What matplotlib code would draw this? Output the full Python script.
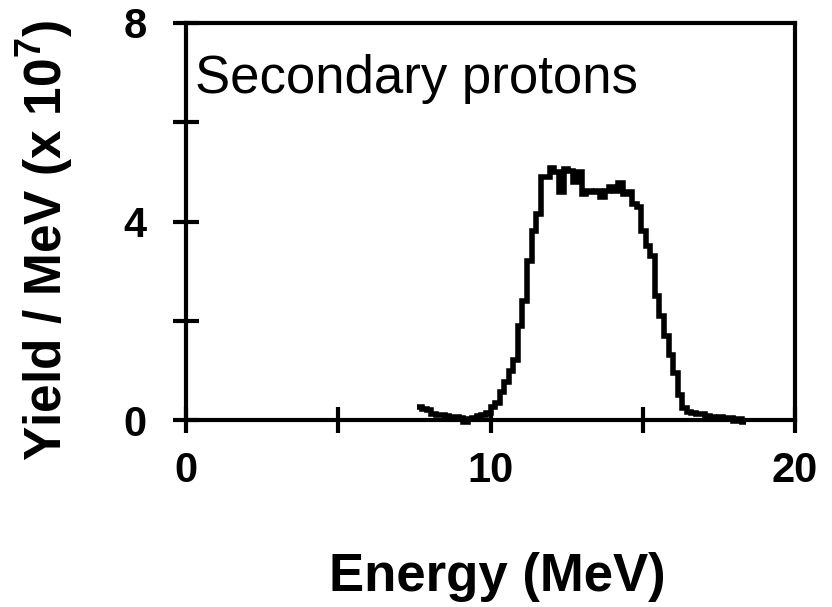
import numpy as np
import matplotlib
matplotlib.use('Agg')
import matplotlib.pyplot as plt

plt.rcParams['font.family'] = ['Liberation Sans', 'DejaVu Sans']
plt.rcParams['mathtext.fontset'] = 'custom'
plt.rcParams['mathtext.bf'] = 'Liberation Sans:bold'
plt.rcParams['mathtext.rm'] = 'Liberation Sans:bold'

# histogram bin edges (MeV) and yield per MeV (x 1e7)
energy_edges = [7.6, 7.75, 7.9, 8.05, 8.2, 8.35, 8.5, 8.65, 8.8, 8.95,
                9.1, 9.25, 9.4, 9.55, 9.7, 9.85, 10.0, 10.15, 10.3, 10.45,
                10.6, 10.75, 10.9, 11.05, 11.2, 11.35, 11.5, 11.65, 11.8, 11.95,
                12.1, 12.25, 12.4, 12.55, 12.7, 12.85, 13.0, 13.15, 13.3, 13.45,
                13.6, 13.75, 13.9, 14.05, 14.2, 14.35, 14.5, 14.65, 14.8, 14.95,
                15.1, 15.25, 15.4, 15.55, 15.7, 15.85, 16.0, 16.15, 16.3, 16.45,
                16.6, 16.75, 16.9, 17.05, 17.2, 17.35, 17.5, 17.65, 17.8, 17.95,
                18.1, 18.25, 18.4]
yield_vals = [0.26, 0.22, 0.20, 0.12, 0.10, 0.10, 0.08, 0.06, 0.06, 0.04,
              -0.04, 0.02, 0.04, 0.08, 0.10, 0.14, 0.26, 0.34, 0.56, 0.76,
              0.98, 1.20, 1.90, 2.40, 3.20, 3.80, 4.15, 4.90, 4.90, 5.08,
              5.00, 4.60, 5.05, 5.02, 4.80, 5.00, 4.55, 4.62, 4.60, 4.62,
              4.50, 4.62, 4.70, 4.62, 4.78, 4.55, 4.60, 4.35, 4.30, 3.80,
              3.50, 3.30, 2.50, 2.10, 1.70, 1.30, 0.95, 0.50, 0.24, 0.16,
              0.14, 0.12, 0.12, 0.08, 0.06, 0.04, 0.06, 0.02, 0.04, -0.02,
              0.02, -0.04]

xticks = [0, 5, 10, 15, 20]
xticklabels = ['0', '', '10', '', '20']
yticks = [0, 2, 4, 6, 8]
yticklabels = ['0', '', '4', '', '8']

fig = plt.figure(figsize=(8.32, 6.07), dpi=100)
ax = fig.add_axes([186/832, 1-420/607, 609/832, 397/607])

ax.stairs(yield_vals, energy_edges, color='black', lw=4, baseline=None, clip_on=False)

ax.set_xlim(0, 20)
ax.set_ylim(0, 8)
ax.set_xticks(xticks)
ax.set_xticklabels(xticklabels, fontsize=30, fontweight='bold')
ax.set_yticks(yticks)
ax.set_yticklabels(yticklabels, fontsize=30, fontweight='bold')
for s in ax.spines.values():
    s.set_linewidth(3)
ax.tick_params(direction='inout', length=19, width=3)
ax.tick_params(axis='y', pad=19)
ax.tick_params(axis='x', pad=13)

ax.text(0.015, 0.824, 'Secondary protons', transform=ax.transAxes,
        fontsize=38, va='baseline', ha='left')

fig.text(497/832, 1-577/607, 'Energy (MeV)', fontsize=38, fontweight='bold',
         ha='center', va='center')
fig.text(45/832, 1-240/607, r'Yield / MeV (x 10$^{\mathbf{7}}$)', fontsize=37,
         fontweight='bold', rotation=90, ha='center', va='center')

fig.savefig('out.png', dpi=100)
